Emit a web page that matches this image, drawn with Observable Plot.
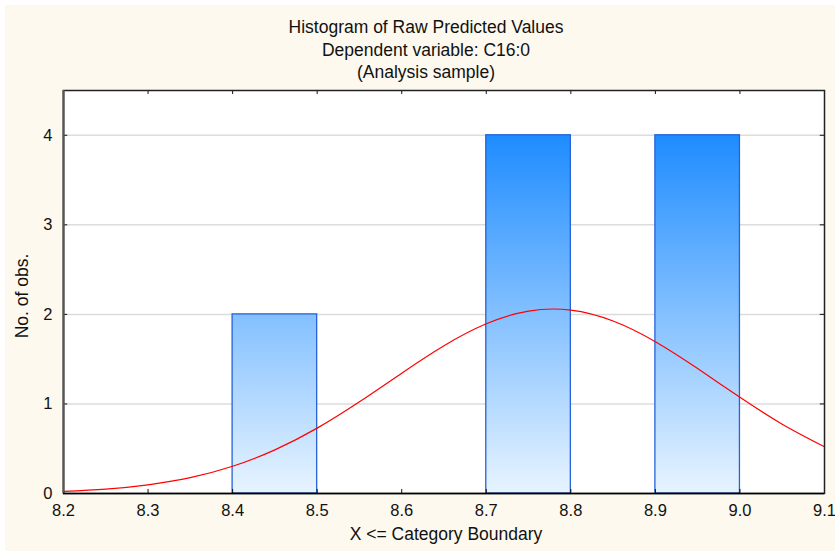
<!DOCTYPE html>
<html>
<head>
<meta charset="utf-8">
<script src="https://cdn.jsdelivr.net/npm/d3@7"></script>
<script src="https://cdn.jsdelivr.net/npm/@observablehq/plot@0.6"></script>
<style>
  html, body { margin: 0; padding: 0; background: #ffffff; }
  #bg { position: absolute; left: 5px; top: 5px; width: 830px; height: 546px; background: #FDF9EE; }
  #chart { position: absolute; left: 0; top: 0; }
  #chart svg { background: transparent; }
</style>
</head>
<body>
<div id="bg"></div>
<div id="chart"></div>
<script>
// ---- data ----
const titleLines = ["Histogram of Raw Predicted Values", "Dependent variable: C16:0", "(Analysis sample)"];
const xLabel = "X <= Category Boundary";
const yLabel = "No. of obs.";
const binStart = [8.4, 8.7, 8.9];
const binEnd = [8.5, 8.8, 9.0];
const counts = [2, 4, 4];
const xTicks = [8.2, 8.3, 8.4, 8.5, 8.6, 8.7, 8.8, 8.9, 9.0, 9.1];
const yTicks = [0, 1, 2, 3, 4];
// fitted normal curve
const curveX = [8.20, 8.25, 8.30, 8.35, 8.40, 8.45, 8.50, 8.55, 8.60, 8.65, 8.70, 8.75, 8.80, 8.85, 8.90, 8.95, 9.00, 9.05, 9.10];
const curveY = [0.024, 0.049, 0.097, 0.177, 0.304, 0.487, 0.730, 1.024, 1.344, 1.650, 1.895, 2.037, 2.048, 1.926, 1.695, 1.395, 1.074, 0.774, 0.522];

const bars = binStart.map((s, i) => ({x1: s, x2: binEnd[i], y: counts[i]}));
const curve = curveX.map((x, i) => ({x, y: curveY[i]}));
const xMin = xTicks[0], xMax = xTicks[xTicks.length - 1];
const yMax = 4.5;

const font = "'Liberation Sans', Arial, Helvetica, sans-serif";
const tickFs = 16.5;
const labelFs = 17.5;

const chart = Plot.plot({
  width: 835,
  height: 551,
  marginLeft: 63,
  marginRight: 11,
  marginTop: 90,
  marginBottom: 58,
  style: {fontFamily: font, fontSize: tickFs + "px", color: "#111", background: "transparent", overflow: "visible"},
  x: {domain: [xMin, xMax], label: null},
  y: {domain: [0, yMax], label: null},
  marks: [
    Plot.frame({fill: "white", stroke: null}),
    Plot.ruleY(yTicks.filter(d => d > 0), {stroke: "#dcdcdc", strokeWidth: 1.5}),
    Plot.rectY(bars, {x1: "x1", x2: "x2", y: "y", fill: "url(#barGrad)", stroke: "#2563d8", strokeWidth: 1.3}),
    Plot.line(curve, {x: "x", y: "y", stroke: "#ff0000", strokeWidth: 1.2, curve: "natural"}),
    // inward ticks
    Plot.ruleX(xTicks, {y1: 0, y2: 0.045, stroke: "#111", strokeWidth: 1}),
    Plot.ruleX(xTicks, {y1: yMax - 0.045, y2: yMax, stroke: "#111", strokeWidth: 1}),
    Plot.ruleY(yTicks, {x1: xMin, x2: xMin + 0.005, stroke: "#111", strokeWidth: 1}),
    Plot.ruleY(yTicks, {x1: xMax - 0.005, x2: xMax, stroke: "#111", strokeWidth: 1}),
    Plot.frame({stroke: "#222", strokeWidth: 1.5}),
    Plot.ruleX([xMin], {stroke: "#555", strokeWidth: 2.2}),
    Plot.ruleY([0], {stroke: "#000", strokeWidth: 1.5}),
    Plot.axisX({ticks: xTicks, tickSize: 0, tickPadding: 11, tickFormat: d => d.toFixed(1), fontSize: tickFs}),
    Plot.axisY({ticks: yTicks, tickSize: 0, tickPadding: 11, tickFormat: d => String(d), fontSize: tickFs}),
    Plot.text([xLabel], {frameAnchor: "bottom", lineAnchor: "top", dy: 34, dx: 2, fontSize: labelFs}),
    Plot.text([yLabel], {frameAnchor: "left", textAnchor: "middle", lineAnchor: "middle", dx: -41, dy: 4, rotate: -90, fontSize: labelFs}),
    Plot.text([titleLines[0]], {frameAnchor: "top", lineAnchor: "middle", dx: -18, dy: -63, fontSize: labelFs}),
    Plot.text([titleLines[1]], {frameAnchor: "top", lineAnchor: "middle", dx: -18, dy: -40, fontSize: labelFs}),
    Plot.text([titleLines[2]], {frameAnchor: "top", lineAnchor: "middle", dx: -18, dy: -18, fontSize: labelFs})
  ]
});

// gradient tied to the y scale (value 4 = deep blue, 0 = near white)
const ys = chart.scale("y");
const svg = d3.select(chart);
const defs = svg.insert("defs", ":first-child");
const g = defs.append("linearGradient")
  .attr("id", "barGrad")
  .attr("gradientUnits", "userSpaceOnUse")
  .attr("x1", 0).attr("x2", 0)
  .attr("y1", ys.apply(4)).attr("y2", ys.apply(0));
g.append("stop").attr("offset", "0%").attr("stop-color", "#1e8cff");
g.append("stop").attr("offset", "100%").attr("stop-color", "#e8f4ff");

document.getElementById("chart").appendChild(chart);
</script>
</body>
</html>
